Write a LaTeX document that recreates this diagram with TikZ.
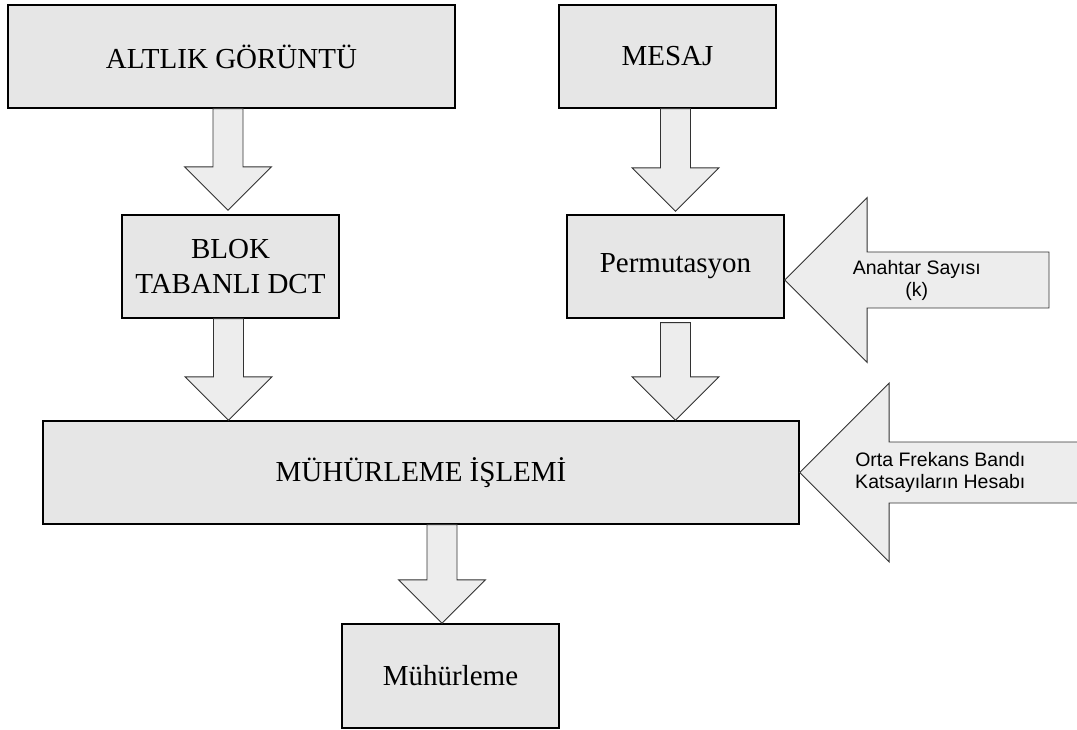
\documentclass[tikz,border=0pt]{standalone}
\usepackage{fontspec}
\setmainfont{Liberation Serif}
\newfontfamily\arrowfont{Liberation Sans}
\usepackage{tikz}
\usetikzlibrary{calc, positioning}
\definecolor{boxbg}{RGB}{230,230,230}
\definecolor{arrowbg}{RGB}{237,237,237}
\definecolor{arrowline}{RGB}{50,50,50}

\tikzset{
  stagebox/.style={draw=black, line width=1.3pt, fill=boxbg, inner sep=0pt, align=center,
    minimum height=103pt, font=\fontsize{29}{35}\selectfont},
  blockarrow/.style={draw=arrowline, fill=arrowbg, line width=0.9pt, line join=miter},
  arrowlabel/.style={align=center, font=\arrowfont\fontsize{19.5}{22}\selectfont},
}

% fat arrow: start, tip, shaft half width, head half width
\newcommand{\fatarrow}[4]{%
  \coordinate (fa-s) at #1;
  \coordinate (fa-t) at #2;
  \coordinate (fa-h) at ($(fa-t)!#4!(fa-s)$);
  \draw[blockarrow] ($(fa-s)!#3!90:(fa-t)$) -- ($(fa-h)!#3!90:(fa-t)$) -- ($(fa-h)!#4!90:(fa-t)$)
    -- (fa-t) -- ($(fa-h)!#4!-90:(fa-t)$) -- ($(fa-h)!#3!-90:(fa-t)$) -- ($(fa-s)!#3!-90:(fa-t)$) -- cycle;
}

\begin{document}
\begin{tikzpicture}[x=1pt, y=-1pt]
  \useasboundingbox (0,0) rectangle (1077,730);

  \node[stagebox, minimum width=447pt] (ALTLIK) at (231.5,56.5) {ALTLIK GÖRÜNTÜ};
  \node[stagebox, minimum width=217pt] (MESAJ) at (667.5,56.5) {MESAJ};
  \node[stagebox, minimum width=217pt] (BLOK) at (230.5,266.5) {BLOK\\TABANLI DCT};
  \node[stagebox, minimum width=217pt] (Perm) at (675.5,266.5) {Permutasyon};
  \node[stagebox, minimum width=756pt] (MUH) at (421,472.5) {MÜHÜRLEME İŞLEMİ};
  \node[stagebox, minimum width=217pt, minimum height=104pt] (Muhur) at (450.5,676) {Mühürleme};

  % down arrows
  \fatarrow{([xshift=-2.5pt]ALTLIK.south -| BLOK.north)}{([xshift=-2.5pt,yshift=4pt]BLOK.north)}{15pt}{43.5pt}
  \fatarrow{(MESAJ.south -| Perm.north)}{([yshift=3pt]Perm.north)}{15pt}{43.5pt}
  \fatarrow{([xshift=-2pt]BLOK.south)}{([xshift=-2pt]BLOK.south |- MUH.north)}{15pt}{43.5pt}
  \fatarrow{([yshift=-4pt]Perm.south)}{(Perm.south |- MUH.north)}{15pt}{43.5pt}
  \fatarrow{([xshift=-8.5pt]Muhur.north |- MUH.south)}{([xshift=-8.5pt]Muhur.north)}{15pt}{43.5pt}

  % side inputs
  \coordinate (keyend) at (1049,280);
  \fatarrow{(keyend)}{([yshift=-13.5pt]Perm.east)}{28pt}{82.5pt}
  \node[arrowlabel] (keytext) at ($(keyend)!0.5!(Perm.east |- keyend)$) {Anahtar Sayısı\\(k)};

  \coordinate (bandend) at (1081,472.5);
  \fatarrow{(bandend)}{(MUH.east)}{30.5pt}{89.5pt}
  \node[arrowlabel] (bandtext) at ($(bandend)!0.5!(MUH.east)$) {Orta Frekans Bandı\\Katsayıların Hesabı};
\end{tikzpicture}
\end{document}
